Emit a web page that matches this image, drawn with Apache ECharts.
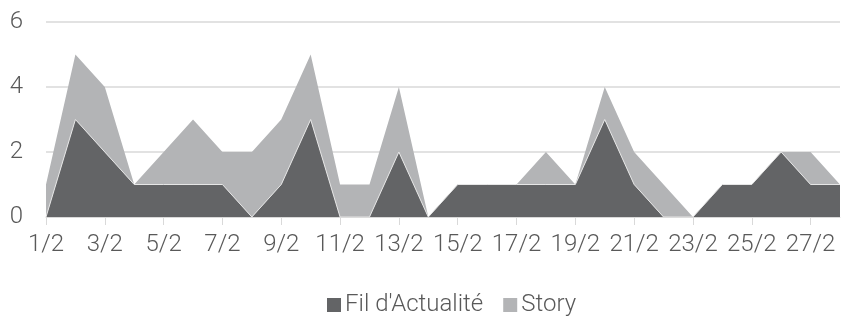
<!DOCTYPE html>
<html>
<head>
<meta charset="utf-8">
<script src="https://cdn.jsdelivr.net/npm/echarts@6/dist/echarts.min.js"></script>
<style>
  html, body { margin: 0; padding: 0; background: #ffffff; }
  #chart { width: 845px; height: 320px; }
</style>
</head>
<body>
<div id="chart"></div>
<script>
// Daily counts for February
const days = ['1/2','2/2','3/2','4/2','5/2','6/2','7/2','8/2','9/2','10/2','11/2','12/2','13/2','14/2',
              '15/2','16/2','17/2','18/2','19/2','20/2','21/2','22/2','23/2','24/2','25/2','26/2','27/2','28/2'];
const filActualite = [0,3,2,1,1,1,1,0,1,3,0,0,2,0,1,1,1,1,1,3,1,0,0,1,1,2,1,1];
const story        = [1,2,2,0,1,2,1,2,2,2,1,1,2,0,0,0,0,1,0,1,1,1,0,0,0,0,1,0];
const yTicks = { min: 0, max: 6, interval: 2 };

const textColor = '#595959';
const font = 'Roboto';

const chart = echarts.init(document.getElementById('chart'), null, { renderer: 'canvas' });
chart.setOption({
  animation: false,
  grid: { left: 46, right: 5, top: 22, bottom: 103 },
  legend: {
    top: 288,
    left: 322,
    itemWidth: 14,
    itemHeight: 14,
    itemGap: 20,
    icon: 'rect',
    textStyle: { color: textColor, fontFamily: font, fontSize: 24, fontWeight: 300, padding: [0, 0, 0, -1] },
    data: ["Fil d'Actualité", 'Story']
  },
  xAxis: {
    type: 'category',
    data: days,
    boundaryGap: false,
    axisLine: { show: true, lineStyle: { color: '#d9d9d9', width: 1 } },
    axisTick: { show: true, interval: 1, length: 8, lineStyle: { color: '#d9d9d9' } },
    axisLabel: { interval: 1, color: textColor, fontFamily: font, fontSize: 24, fontWeight: 300, margin: 16 },
    splitLine: { show: false }
  },
  yAxis: {
    type: 'value',
    min: yTicks.min,
    max: yTicks.max,
    interval: yTicks.interval,
    axisLine: { show: false },
    axisTick: { show: false },
    axisLabel: { color: textColor, fontFamily: font, fontSize: 24, fontWeight: 300, margin: 23 },
    splitLine: { lineStyle: { color: '#d9d9d9', width: 1.5 } }
  },
  series: [
    {
      name: "Fil d'Actualité",
      type: 'line',
      stack: 'total',
      data: filActualite,
      symbol: 'none',
      itemStyle: { color: '#636466' },
      lineStyle: { width: 1, color: '#e6e6e6' },
      areaStyle: { color: '#636466', opacity: 1 },
      z: 3
    },
    {
      name: 'Story',
      type: 'line',
      stack: 'total',
      data: story,
      symbol: 'none',
      itemStyle: { color: '#b3b4b6' },
      lineStyle: { width: 0 },
      areaStyle: { color: '#b3b4b6', opacity: 1 },
      z: 2
    }
  ]
});
</script>
</body>
</html>
